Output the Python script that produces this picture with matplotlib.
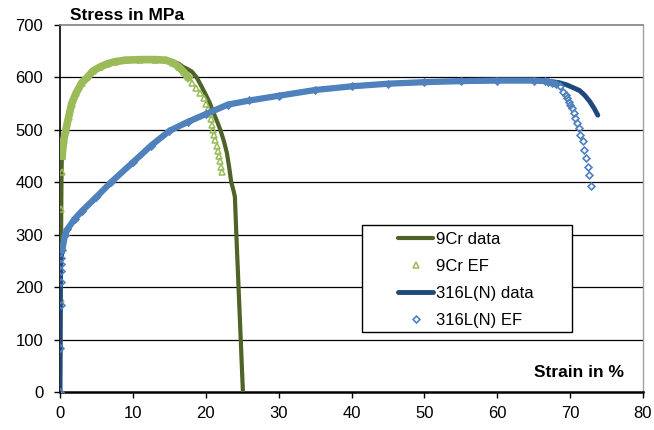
import matplotlib
matplotlib.use("Agg")
from matplotlib import pyplot as plt
from matplotlib.patches import Rectangle

plt.rcParams['font.family'] = ['Liberation Sans', 'DejaVu Sans']

# 9Cr measured curve
cr_strain = [0, 0.05, 0.1, 0.15, 0.2, 0.25, 0.4, 0.8, 1.2, 1.6, 2.2, 3.0, 3.75, 4.5,
             5.5, 6.5, 7.5, 9, 11, 13, 14.5, 15.5, 16.3, 16.9, 17.5, 18.1, 18.75,
             19.3, 19.9, 20.5, 21.0, 21.5, 22.0, 22.5, 22.9, 23.2, 23.5, 23.8, 24.0,
             24.2, 24.5, 24.8, 25.1]
cr_stress = [0, 100, 200, 300, 400, 450, 480, 500, 528, 550, 570, 590, 600, 612,
             620, 626, 630, 633, 635, 635, 634, 631, 626, 620, 616, 611, 600,
             586, 570, 553, 535, 518, 500, 478, 456, 430, 400, 385, 372,
             300, 200, 100, 0]

# 9Cr EF
cr_ef_strain = [0, 0.05, 0.1, 0.15, 0.2, 0.25, 0.3, 0.5, 0.8, 1.2, 1.6, 2.2, 3.0,
                3.75, 4.5, 5.5, 6.5, 7.5, 9, 11, 13, 14.5, 15.5, 16.3, 17.0, 17.6,
                18.1, 18.7, 19.2, 19.7, 20.1, 20.35, 20.55, 20.7, 20.85, 20.95,
                21.15, 21.3, 21.5, 21.65, 21.8, 21.95, 22.1, 22.2]
cr_ef_stress = [0, 88, 178, 260, 350, 420, 450, 480, 500, 525, 550, 570, 590,
                600, 612, 620, 626, 630, 633, 634, 634, 633, 628, 620, 610, 600,
                590, 580, 570, 560, 550, 540, 530, 520, 510, 500,
                490, 480, 470, 460, 450, 440, 430, 420]

# 316L(N) measured curve
ss_strain = [0, 0.02, 0.05, 0.1, 0.3, 0.7, 1, 2, 3, 5, 7, 10, 12.5, 15, 17.5, 20,
             23, 26, 30, 35, 40, 45, 50, 55, 60, 65, 67, 68.5, 69.5, 70.5, 71.3,
             72, 72.7, 73.3, 73.8]
ss_stress = [0, 100, 200, 250, 270, 300, 310, 330, 345, 372, 400, 438, 470, 498,
             515, 530, 548, 556, 565, 576, 583, 588, 591, 593, 594, 594, 593, 590,
             586, 580, 575, 566, 554, 541, 528]

# 316L(N) EF
ss_ef_strain = [0, 0.05, 0.08, 0.1, 0.12, 0.15, 0.2, 0.3, 0.7, 1, 2, 3, 5, 7, 10,
                12.5, 15, 17.5, 20, 23, 26, 30, 35, 40, 45, 50, 55, 60, 65, 66.5,
                67, 67.5, 68, 68.6, 69.0, 69.4, 69.6, 69.9, 70.0, 70.3, 70.5, 70.7,
                71.0, 71.2, 71.4, 71.7, 71.9, 72.2, 72.4, 72.6, 72.8]
ss_ef_stress = [0, 83, 165, 210, 230, 245, 255, 270, 300, 310, 330, 345, 372, 400,
                438, 470, 498, 515, 530, 548, 556, 565, 576, 583, 588, 591, 593,
                594, 594, 593, 592, 590, 587, 583, 573, 567, 560, 554, 548, 541,
                532, 522, 513, 503, 490, 478, 462, 446, 430, 414, 393]

fig = plt.figure(figsize=(6.54, 4.30), dpi=100)
ax = fig.add_axes([60/654, 38/430, 583/654, 367/430])

c_cr = '#4F6228'
c_cr_ef = '#9BBB59'
c_ss = '#1F497D'
c_ss_ef = '#4F81BD'

for y in range(100, 700, 100):
    ax.axhline(y, color='black', lw=0.9, zorder=1)

ax.plot(cr_strain, cr_stress, color=c_cr, lw=3, solid_capstyle='round',
        label='9Cr data', zorder=3)
# dense part of the EF points reads as a band
ax.plot(cr_ef_strain[6:26], cr_ef_stress[6:26], color=c_cr_ef, lw=5.5, zorder=4)
ax.plot(cr_ef_strain, cr_ef_stress, ls='none', marker='^', ms=5, mfc='none',
        mec=c_cr_ef, mew=1.1, label='9Cr EF', zorder=4)
ax.plot(ss_strain, ss_stress, color=c_ss, lw=3.5, solid_capstyle='round',
        label='316L(N) data', zorder=5)
ax.plot(ss_ef_strain[7:33], ss_ef_stress[7:33], color=c_ss_ef, lw=4.5, zorder=6)
ax.plot(ss_ef_strain, ss_ef_stress, ls='none', marker='D', ms=3.5, mfc='none',
        mec=c_ss_ef, mew=1.2, label='316L(N) EF', zorder=6)

ax.set_xlim(0, 80)
ax.set_ylim(0, 700)
ax.set_xticks(range(0, 81, 10))
ax.set_yticks(range(0, 701, 100))
ax.tick_params(axis='both', labelsize=12, direction='out', length=4, width=1,
               color='black', pad=6)
ax.tick_params(axis='y', pad=8)

ax.spines['left'].set_color('black')
ax.spines['left'].set_linewidth(1.2)
ax.spines['bottom'].set_color('black')
ax.spines['bottom'].set_linewidth(1.8)
ax.spines['top'].set_color('#808080')
ax.spines['top'].set_linewidth(1.2)
ax.spines['right'].set_color('#A0A0A0')
ax.spines['right'].set_linewidth(1.0)

fig.text(70/654, 1 - 15/430, 'Stress in MPa', fontsize=12.5, fontweight='bold',
         va='center', ha='left')
ax.text(0.967, 0.054, 'Strain in %', transform=ax.transAxes, fontsize=12.5,
        fontweight='bold', ha='right', va='center')

# legend box drawn separately, Excel style with wide margins
ax.add_patch(Rectangle((0.518, 0.163), 0.360, 0.292, transform=ax.transAxes,
                       facecolor='white', edgecolor='black', lw=1.0, zorder=9))
leg = ax.legend(loc='upper left', bbox_to_anchor=(0.58, 0.436), fontsize=12,
                frameon=False, handlelength=2.1, handletextpad=0.15,
                borderpad=0, labelspacing=0.72, borderaxespad=0)
leg.set_zorder(10)

fig.savefig('out.png', dpi=100)
